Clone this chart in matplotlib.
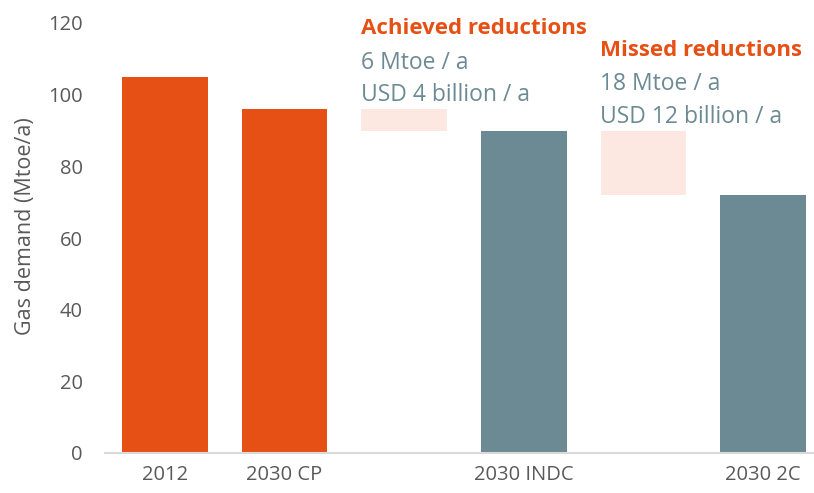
import matplotlib
matplotlib.use("Agg")
import matplotlib.pyplot as plt

categories = ["2012", "2030 CP", "", "2030 INDC", "", "2030 2C"]
bar_values = [105, 96, None, 90, None, 72]
bar_colors = ["#E65014", "#E65014", None, "#6C8A94", None, "#6C8A94"]
gap_bottoms = [None, None, 90, None, 72, None]
gap_tops = [None, None, 96, None, 90, None]
yticks = [0, 20, 40, 60, 80, 100, 120]

ORANGE = "#E65014"
GREY = "#6C8A94"
PINK = "#FCE8E1"

plt.rcParams['font.family'] = ['Open Sans', 'DejaVu Sans']

fig = plt.figure(figsize=(8.14, 4.93), dpi=100)
W, H = 814, 493
left, right = 105, 823
top, bottom = 23, 453
ax = fig.add_axes([left / W, 1 - bottom / H, (right - left) / W, (bottom - top) / H])

x = list(range(len(categories)))
bw = 0.715
for i in x:
    if bar_values[i] is not None:
        ax.bar(i, bar_values[i], width=bw, color=bar_colors[i], zorder=2)
    if gap_bottoms[i] is not None:
        ax.bar(i, gap_tops[i] - gap_bottoms[i], bottom=gap_bottoms[i], width=bw,
               color=PINK, zorder=2)

ax.set_xlim(-0.5, len(categories) - 0.5)
ax.set_ylim(0, 120)
ax.set_yticks(yticks)
ax.set_xticks(x)
ax.set_xticklabels(categories)
ax.tick_params(axis='both', length=0, labelcolor="#595959", labelsize=14.5)
ax.tick_params(axis='x', pad=9)
ax.tick_params(axis='y', pad=16)
for s in ['top', 'right', 'left']:
    ax.spines[s].set_visible(False)
ax.spines['bottom'].set_color("#D9D9D9")
ax.spines['bottom'].set_linewidth(1.5)
ax.set_ylabel("Gas demand (Mtoe/a)", fontsize=15.5, color="#595959")
ax.yaxis.set_label_coords((36 - left) / (right - left), (bottom - 226) / (bottom - top))

def px(xp, yp):
    return (xp / W, 1 - yp / H)

fig.text(*px(361, 29), "Achieved reductions", color=ORANGE, fontsize=16,
         fontweight='bold', va='center', ha='left')
fig.text(*px(361, 63), "6 Mtoe / a", color=GREY, fontsize=16.5, va='center', ha='left')
fig.text(*px(361, 95), "USD 4 billion / a", color=GREY, fontsize=16.5, va='center', ha='left')
fig.text(*px(600, 51), "Missed reductions", color=ORANGE, fontsize=16,
         fontweight='bold', va='center', ha='left')
fig.text(*px(600, 84), "18 Mtoe / a", color=GREY, fontsize=16.5, va='center', ha='left')
fig.text(*px(600, 117), "USD 12 billion / a", color=GREY, fontsize=16.5, va='center', ha='left')

fig.savefig("out.png", dpi=100)
